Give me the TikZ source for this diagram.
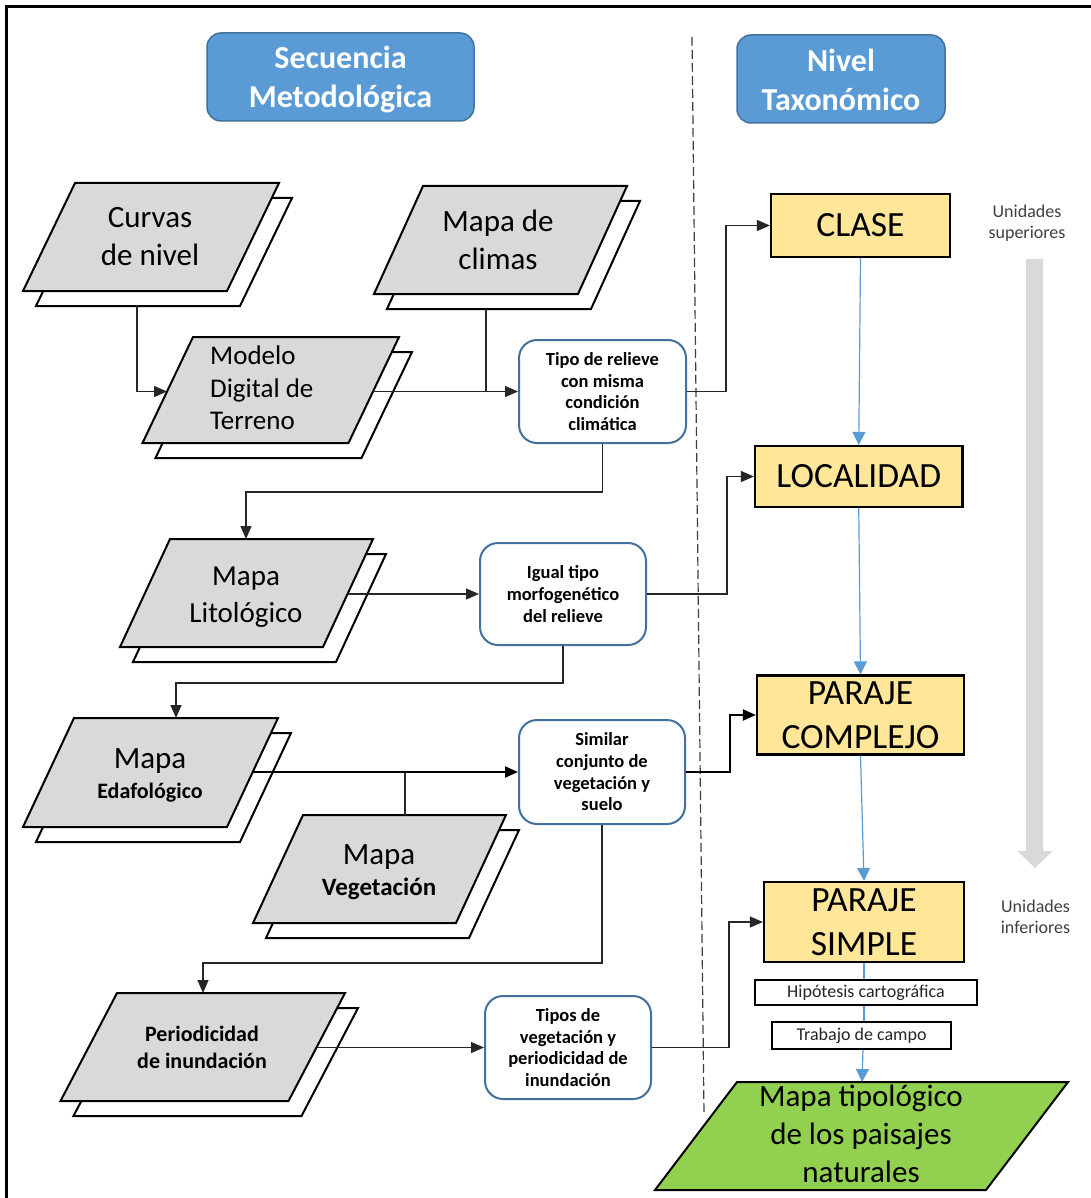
\documentclass[tikz,border=0pt]{standalone}
\usepackage{fontspec}
\setmainfont{Carlito}
\usetikzlibrary{arrows.meta,calc}
\definecolor{tblue}{HTML}{5B9BD5}
\definecolor{tborder}{HTML}{41719C}
\definecolor{yel}{HTML}{FFE699}
\definecolor{dgray}{HTML}{D9D9D9}
\definecolor{grn}{HTML}{92D050}
\definecolor{txtgray}{HTML}{404040}
\newcommand\docshape[5]{%
 \filldraw[docback] ({#1+13},{#2+#4+15}) -- ({#1+#5+13},{#2+15}) -- ({#1+#5+#3+13},{#2+15}) -- ({#1+#3+13},{#2+#4+15}) -- cycle;
 \filldraw[docfront] (#1,{#2+#4}) -- ({#1+#5},#2) -- ({#1+#5+#3},#2) -- ({#1+#3},{#2+#4}) -- cycle;}
\begin{document}
\begin{tikzpicture}[x=1pt,y=-1pt,
  titlebox/.style={rounded corners=14pt, fill=tblue, draw=tborder, line width=1.5pt, inner sep=0pt},
  titletext/.style={text=white, font=\bfseries\fontsize{32}{39}\selectfont, align=center, inner sep=0pt},
  procbox/.style={rounded corners=18pt, draw=tborder, line width=2pt, fill=white, align=center, font=\bfseries\fontsize{18.5}{21.7}\selectfont, inner sep=0pt},
  levelbox/.style={draw=black, line width=2.2pt, fill=yel, align=center, font=\fontsize{35.5}{44}\selectfont, inner sep=0pt},
  notebox/.style={draw=black, line width=1.8pt, fill=white, font=\fontsize{18}{21}\selectfont, inner sep=0pt, text=black!85},
  docfront/.style={fill=dgray, draw=black, line width=2pt},
  docback/.style={fill=white, draw=black, line width=2pt},
  doctext/.style={align=center, inner sep=0pt, font=\fontsize{31}{38}\selectfont},
  conn/.style={draw=black!85, line width=1.2pt, -{Triangle[length=13pt,width=11pt]}},
  thickconn/.style={draw=black, line width=2pt, -{Triangle[length=13pt,width=11pt]}},
  link/.style={draw=black!85, line width=1.2pt},
  blueconn/.style={draw=tblue, line width=1.2pt, -{Triangle[length=13pt,width=13pt]}},
  bluelink/.style={draw=tblue, line width=1.2pt},
  sidetext/.style={align=center, inner sep=0pt, text=txtgray, font=\fontsize{18}{21.5}\selectfont}]
\useasboundingbox (0,0) rectangle (1091,1198);
\clip (0,0) rectangle (1091,1198);
\fill[white] (0,0) rectangle (1091,1198);
% frame
\draw[line width=2.2pt] (6.5,1210) -- (6.5,6.5) -- (1100,6.5);
% divider
\draw[dashed, dash pattern=on 9pt off 4pt, draw=txtgray, line width=1.2pt] (692,37) -- (704,1115);
% big grey arrow
\fill[dgray] (1026,259) -- (1043,259) -- (1043,851) -- (1052.5,851) -- (1035,868) -- (1017.5,851) -- (1026,851) -- cycle;

% titles
\node[titlebox, minimum width=267pt, minimum height=88pt] (t1) at (340.5,77) {};
\node[titletext] (t1txt) at ([yshift=-2.5pt]t1.center) {Secuencia\\Metodológica};
\node[titlebox, minimum width=208pt, minimum height=88pt] (t2) at (841,79) {};
\node[titletext] (t2txt) at ([yshift=-0.5pt]t2.center) {Nivel\\Taxonómico};

% document shapes
\docshape{23}{183}{204}{108}{52}
\docshape{374}{186}{204}{108}{49}
\docshape{142.5}{337}{206}{106}{50.5}
\docshape{120}{539}{203}{108}{50}
\docshape{23}{718}{204}{109}{51}
\docshape{253}{815}{203}{108}{50}
\docshape{60.5}{993}{228}{108}{56.5}
\filldraw[fill=grn, draw=black, line width=2pt] (655,1190) -- (737,1082) -- (1068,1082) -- (986,1190) -- cycle;

\node[doctext] (curvas) at (150,237) {Curvas\\de nivel};
\node[doctext] (climas) at (498,240) {Mapa de\\climas};
\node[doctext, anchor=west, align=left, font=\fontsize{27}{32.5}\selectfont] (modelo) at (210,388) {Modelo\\Digital de\\Terreno};
\node[doctext, font=\fontsize{29}{36.7}\selectfont] (lito) at (246,597) {Mapa\\Litológico};
\node[doctext, anchor=base] (edafa) at (150,768) {Mapa};
\node[doctext, anchor=base, font=\bfseries\fontsize{22}{26.7}\selectfont] (edafb) at (150,798) {Edafológico};
\node[doctext, anchor=base] (vega) at (379,864) {Mapa};
\node[doctext, anchor=base, font=\bfseries\fontsize{25}{28}\selectfont] (vegb) at (379,895) {Vegetación};
\node[doctext, font=\bfseries\fontsize{22}{26.7}\selectfont] (peri) at (202,1047) {Periodicidad\\de inundación};
\node[doctext, font=\fontsize{31}{38}\selectfont] (tipo) at (861,1134) {Mapa tipológico\\de los paisajes\\naturales};

% process boxes
\node[procbox, minimum width=167pt, minimum height=103pt] (A) at (602.5,391.5) {Tipo de relieve\\con misma\\condición\\climática};
\node[procbox, minimum width=166pt, minimum height=102pt] (B) at (563,594) {Igual tipo\\morfogenético\\del relieve};
\node[procbox, minimum width=166pt, minimum height=104pt] (C) at (602,772) {Similar\\conjunto de\\vegetación y\\suelo};
\node[procbox, minimum width=166pt, minimum height=103pt] (D) at (568,1047.5) {Tipos de\\vegetación y\\periodicidad de\\inundación};

% level boxes
\node[levelbox, minimum width=179pt, minimum height=63pt] (clase) at (860.5,225.5) {CLASE};
\node[levelbox, minimum width=207.5pt, minimum height=61pt] (loc) at (858.75,476.5) {LOCALIDAD};
\node[levelbox, minimum width=207pt, minimum height=79pt] (comp) at (860.5,715) {PARAJE\\COMPLEJO};
\node[levelbox, minimum width=200pt, minimum height=80pt] (simp) at (864,922) {PARAJE\\SIMPLE};
\node[notebox, minimum width=222pt, minimum height=25pt] (hip) at (866,992.5) {Hipótesis cartográfica};
\node[notebox, minimum width=179pt, minimum height=27pt] (trab) at (861.5,1035.5) {Trabajo de campo};

\node[sidetext] (usup) at (1027,223) {Unidades\\superiores};
\node[sidetext] (uinf) at (1035.5,917) {Unidades\\inferiores};

% connector anchor points on document shapes
\coordinate (curvas-s) at (137,305);
\coordinate (modelo-w) at (167,391.5);
\coordinate (modelo-e) at (373,391.5);
\coordinate (climas-s) at (486,309);
\coordinate (lito-n) at (246,539);
\coordinate (lito-e) at (347.5,594);
\coordinate (edaf-n) at (176,718);
\coordinate (edaf-e) at (252.7,772);
\coordinate (veg-n) at (405,815);
\coordinate (peri-n) at (203,993);
\coordinate (peri-e) at (316.5,1047.5);
\coordinate (tipo-n) at (862,1082);

% black connectors
\draw[conn] (curvas-s) |- (modelo-w);
\draw[conn] (modelo-e) -- (modelo-e -| A.west);
\draw[link] (climas-s) -- (climas-s |- A.west);
\draw[conn] (A.east) -| ([xshift=-44pt]clase.west) -- (clase.west);
\draw[conn] (A.south) -- ++(0,48) -| (lito-n);
\draw[conn] (lito-e) -- (lito-e -| B.west);
\draw[conn] (B.east) -| ([xshift=-27pt]loc.west) -- (loc.west);
\draw[conn] (B.south) -- ++(0,37) -| (edaf-n);
\draw[thickconn] (edaf-e) -- (edaf-e -| C.west);
\draw[link] (veg-n) -- (veg-n |- edaf-e);
\draw[thickconn] (C.east) -| ([xshift=-26pt]comp.west) -- (comp.west);
\draw[conn] (C.south) -- ++(0,138) -| (peri-n);
\draw[conn] (peri-e) -- (peri-e -| D.west);
\draw[conn] (D.east) -| ([xshift=-34pt]simp.west) -- (simp.west);

% blue connectors
\draw[blueconn] (clase.south) -- (loc.north);
\draw[blueconn] (loc.south) -- (comp.north);
\draw[blueconn] (comp.south) -- (simp.north);
\draw[bluelink] (simp.south) -- (simp.south |- hip.north);
\draw[bluelink] (simp.south |- hip.south) -- (simp.south |- trab.north);
\draw[blueconn] ([xshift=-1pt]simp.south |- trab.south) -- (tipo-n);
\end{tikzpicture}
\end{document}
